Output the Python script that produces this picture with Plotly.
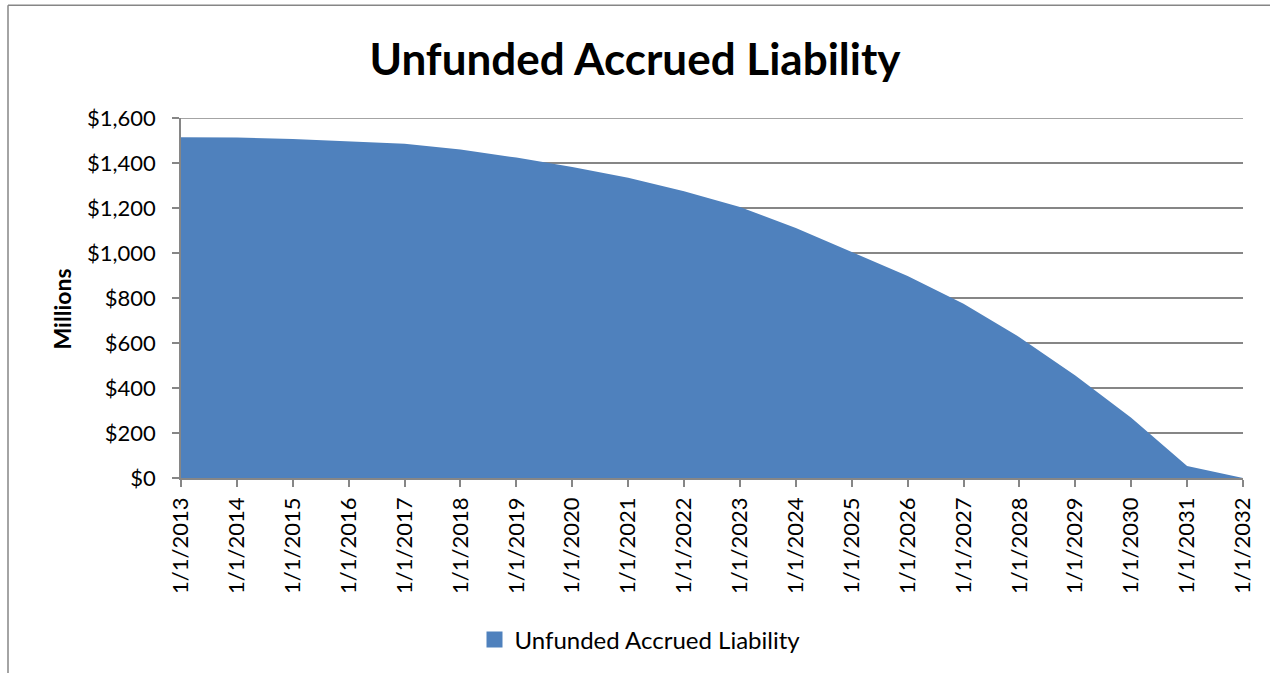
import plotly.graph_objects as go

dates = ["1/1/2013", "1/1/2014", "1/1/2015", "1/1/2016", "1/1/2017", "1/1/2018",
         "1/1/2019", "1/1/2020", "1/1/2021", "1/1/2022", "1/1/2023", "1/1/2024",
         "1/1/2025", "1/1/2026", "1/1/2027", "1/1/2028", "1/1/2029", "1/1/2030",
         "1/1/2031", "1/1/2032"]
liability = [1514, 1513, 1507, 1498, 1486, 1460, 1424, 1382, 1334, 1274,
             1205, 1111, 1006, 898, 775, 626, 456, 268, 53, 0]

y_ticks = [0, 200, 400, 600, 800, 1000, 1200, 1400, 1600]
y_labels = ["$0", "$200", "$400", "$600", "$800", "$1,000", "$1,200", "$1,400", "$1,600"]

SERIES = "Unfunded Accrued Liability"
FONT = "Lato"
GRID = "#868686"
BLUE = "#4F81BD"

fig = go.Figure()
fig.add_trace(go.Scatter(
    x=dates, y=liability, mode="lines", fill="tozeroy",
    line=dict(color=BLUE, width=0), fillcolor=BLUE,
    name=SERIES, showlegend=False,
))
# legend swatch (square, as in the reference)
fig.add_trace(go.Scatter(
    x=[None], y=[None], mode="markers",
    marker=dict(symbol="square", size=16, color=BLUE),
    name=SERIES, showlegend=True,
))

L, R, T, B = 181, 27, 118, 194
W, H = 1270, 673
pw, ph = W - L - R, H - T - B

def px(x):
    return (x - L) / pw

def py(y):
    return (H - B - y) / ph

fig.update_layout(
    width=W, height=H,
    margin=dict(l=L, r=R, t=T, b=B),
    paper_bgcolor="white", plot_bgcolor="white",
    font=dict(family=FONT, size=22, color="black"),
    title=dict(text="<b>Unfunded Accrued Liability</b>", x=0.5, xanchor="center",
               y=1 - 60 / H, yanchor="middle",
               font=dict(family=FONT, size=44, color="black")),
    xaxis=dict(
        type="category", range=[0, len(dates) - 1],
        tickangle=-90, ticks="outside", ticklen=7, tickcolor=GRID, tickwidth=1.5,
        showline=True, linecolor=GRID, linewidth=1.5,
        showgrid=False, zeroline=False, ticklabelstandoff=2,
        tickfont=dict(family=FONT, size=22, color="black"),
    ),
    yaxis=dict(
        range=[0, 1600], tickvals=y_ticks, ticktext=y_labels,
        ticks="outside", ticklen=7, tickcolor=GRID, tickwidth=1.5,
        showline=True, linecolor=GRID, linewidth=1.5,
        showgrid=True, gridcolor=GRID, gridwidth=1.5, zeroline=False,
        ticklabelstandoff=12,
        tickfont=dict(family=FONT, size=22, color="black"),
    ),
    legend=dict(orientation="h", x=px(640), xanchor="center", y=py(640), yanchor="middle",
                font=dict(family=FONT, size=24, color="black"),
                itemwidth=30, tracegroupgap=0),
    annotations=[
        dict(text="<b>Millions</b>", xref="paper", yref="paper", x=px(62), y=py(310),
             xanchor="center", yanchor="middle", textangle=-90, showarrow=False,
             font=dict(family=FONT, size=23, color="black")),
    ],
    shapes=[
        dict(type="line", xref="paper", yref="y", x0=0, x1=1,
             y0=y_ticks[-1], y1=y_ticks[-1], line=dict(color=GRID, width=1.5)),
        dict(type="line", xref="paper", yref="paper", x0=px(8), x1=px(1280),
             y0=py(5), y1=py(5), line=dict(color=GRID, width=1.5)),
        dict(type="line", xref="paper", yref="paper", x0=px(8), x1=px(8),
             y0=py(5), y1=py(690), line=dict(color=GRID, width=1.5)),
    ],
)

fig.write_html("out.html", config={"displayModeBar": False},
               post_script="document.body.style.margin='0';")
